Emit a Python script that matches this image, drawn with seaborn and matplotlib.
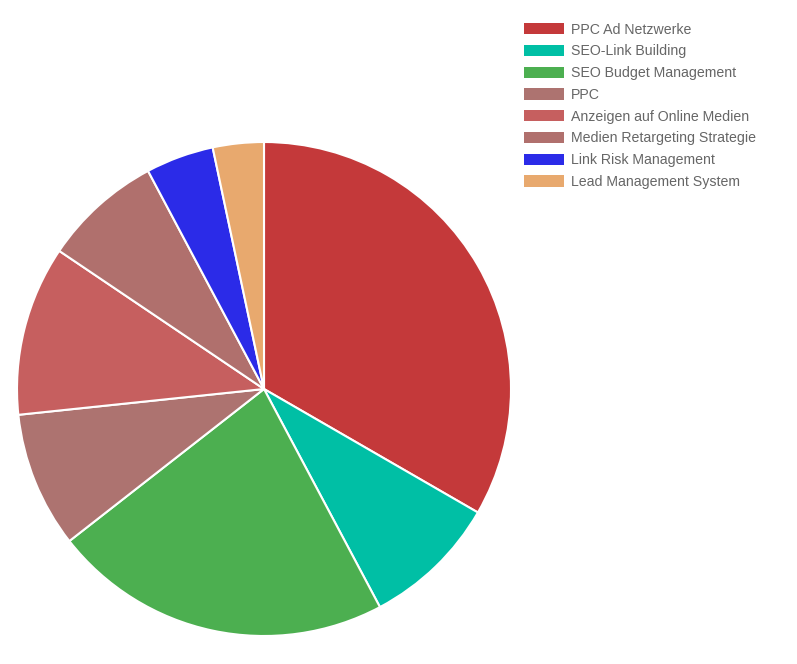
import matplotlib
matplotlib.use("Agg")
import matplotlib.pyplot as plt
import matplotlib.patches as mpatches
import seaborn as sns

categories = ["PPC Ad Netzwerke", "SEO-Link Building", "SEO Budget Management", "PPC",
              "Anzeigen auf Online Medien", "Medien Retargeting Strategie",
              "Link Risk Management", "Lead Management System"]
values = [30, 8, 20, 8, 10, 7, 4, 3]
colors = ["#c4393a", "#00bfa5", "#4caf50", "#ad7370", "#c65f5f", "#b0706d", "#2b2be8", "#e8a96e"]

sns.set_theme(style="white")
plt.rcParams['font.family'] = ['Liberation Sans', 'DejaVu Sans']

W, H = 797, 664
fig = plt.figure(figsize=(W/100, H/100), dpi=100)
cx, cy, r = 264, 389, 247
ax = fig.add_axes([(cx - r)/W, (H - cy - r)/H, 2*r/W, 2*r/H])
pal = sns.color_palette(colors)
ax.pie(values, colors=pal, startangle=90, counterclock=False, radius=1.0,
       wedgeprops=dict(edgecolor="white", linewidth=1.5))
ax.set_xlim(-1, 1); ax.set_ylim(-1, 1)
ax.set_aspect("equal")
ax.axis("off")

handles = [mpatches.Patch(facecolor=c, edgecolor="none", label=l) for c, l in zip(pal, categories)]
leg = fig.legend(handles=handles, loc="upper left", bbox_to_anchor=(524/W, 1 - 22.5/H),
                 frameon=False, fontsize=10.2, handlelength=2.8, handleheight=0.85,
                 handletextpad=0.5, labelspacing=0.55, borderaxespad=0, borderpad=0)
for t in leg.get_texts():
    t.set_color("#666666")

fig.savefig("out.png", dpi=100)
